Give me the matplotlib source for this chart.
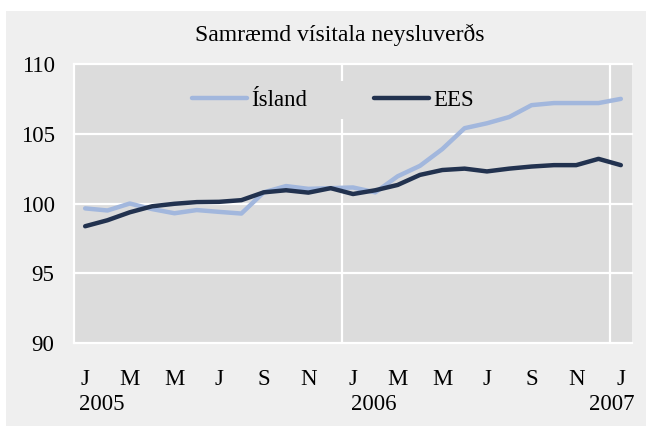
import matplotlib
matplotlib.use("Agg")
import matplotlib.pyplot as plt
import matplotlib.transforms as mtransforms
from matplotlib.patches import Rectangle

months = ["J", "F", "M", "A", "M", "J", "J", "Á", "S", "O", "N", "D",
          "J", "F", "M", "A", "M", "J", "J", "Á", "S", "O", "N", "D", "J"]
island = [99.65, 99.5, 100.0, 99.6, 99.3, 99.53, 99.4, 99.28, 100.8, 101.25, 101.05, 101.1,
          101.15, 100.8, 101.95, 102.7, 103.9, 105.4, 105.75, 106.2, 107.05, 107.2, 107.2, 107.2, 107.5]
ees = [98.37, 98.8, 99.37, 99.8, 99.98, 100.1, 100.12, 100.24, 100.8, 100.95, 100.78, 101.1,
       100.68, 100.95, 101.33, 102.05, 102.4, 102.5, 102.3, 102.5, 102.65, 102.75, 102.75, 103.2, 102.75]
xtick_labels = ["J", "M", "M", "J", "S", "N", "J", "M", "M", "J", "S", "N", "J"]
years = ["2005", "2006", "2007"]
yticks = [90, 95, 100, 105, 110]
title = "Samræmd vísitala neysluverðs"

plt.rcParams['font.family'] = ['Liberation Serif', 'DejaVu Serif']
FS = 16.5

W, H = 646, 428
fig = plt.figure(figsize=(W / 100, H / 100), dpi=100)
fig.patch.set_facecolor("white")
fig.patches.append(Rectangle((6 / W, 1 - 426 / H), 1 - 6 / W, (426 - 11) / H,
                             transform=fig.transFigure, facecolor="#efefef",
                             edgecolor="none", zorder=-10))

ax = fig.add_axes([74 / W, 1 - 343 / H, (632 - 74) / W, (343 - 64) / H])
ax.set_facecolor("#dcdcdc")
x = list(range(len(months)))

ax.set_xlim(-0.5, len(months) - 0.5)
ax.set_ylim(yticks[0], yticks[-1])

for v in yticks:
    ax.axhline(v, color="white", lw=1.6, zorder=1, clip_on=False)
for b in [11.5, 23.5]:
    ax.axvline(b, color="white", lw=1.6, zorder=1)

for s in ["top", "right", "bottom"]:
    ax.spines[s].set_visible(False)
ax.spines["left"].set_color("white")
ax.spines["left"].set_linewidth(1.6)

l1, = ax.plot(x, island, color="#a2b7dd", lw=3.2, label="Ísland", zorder=3,
              solid_joinstyle="round", solid_capstyle="round")
l2, = ax.plot(x, ees, color="#22324f", lw=3.2, label="EES", zorder=4,
              solid_joinstyle="round", solid_capstyle="round")

ax.set_yticks(yticks)
ax.set_yticklabels([str(v) for v in yticks])
ax.set_xticks(x[::2])
ax.set_xticklabels(xtick_labels)
ax.tick_params(axis="both", length=0, labelsize=FS)
ax.tick_params(axis="y", pad=14)
ax.tick_params(axis="x", pad=19)

trans = mtransforms.blended_transform_factory(ax.transData, fig.transFigure)
ax.text(-0.28, 1 - 405 / H, years[0], transform=trans, ha="left", va="center", fontsize=FS)
ax.text(11.9, 1 - 405 / H, years[1], transform=trans, ha="left", va="center", fontsize=FS)
ax.text(24.59, 1 - 405 / H, years[2], transform=trans, ha="right", va="center", fontsize=FS)

fig.text(340 / W, 1 - 35 / H, title, ha="center", va="center", fontsize=FS + 0.5)

leg = ax.legend(handles=[l1, l2], loc="center", bbox_to_anchor=(333 / W, 1 - 100 / H),
                bbox_transform=fig.transFigure, ncol=2, frameon=True, fontsize=FS,
                handlelength=2.4, handletextpad=0.2, columnspacing=2.9,
                borderpad=0.35, fancybox=False)
leg.get_frame().set_facecolor("#dcdcdc")
leg.get_frame().set_edgecolor("none")
leg.get_frame().set_alpha(1)
leg.set_zorder(5)

fig.savefig("out.png", dpi=100, facecolor=fig.get_facecolor())
